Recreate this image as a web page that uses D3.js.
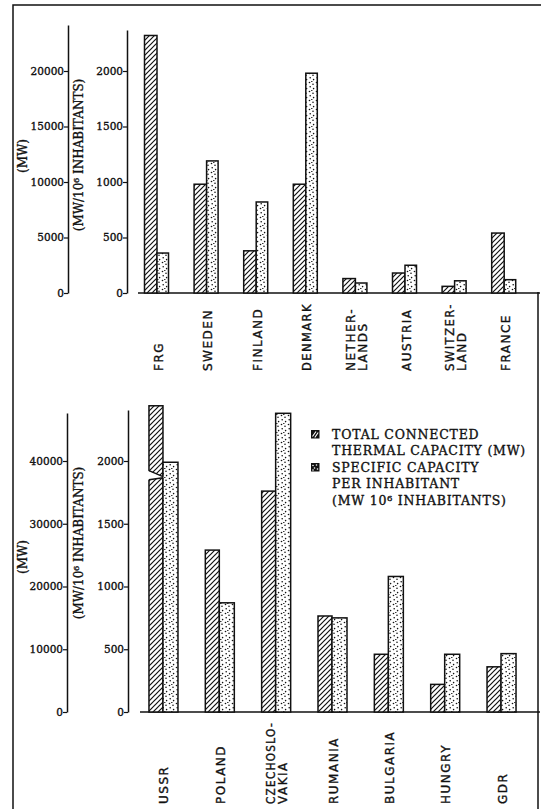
<!DOCTYPE html>
<html><head><meta charset="utf-8">
<script src="https://cdn.jsdelivr.net/npm/d3@7"></script>
<style>body{margin:0;background:#fff} svg{display:block}</style>
</head><body><svg id="chart" width="544" height="809"></svg>
<script>
// ---------- DATA ----------
const topCountries = ["FRG","SWEDEN","FINLAND","DENMARK","NETHER-|LANDS","AUSTRIA","SWITZER-|LAND","FRANCE"];
const topTotalMW = [23200, 9800, 3800, 9800, 1300, 1800, 600, 5400];
const topSpecific = [360, 1190, 820, 1980, 90, 250, 110, 120];
const topMWTicks = [0, 5000, 10000, 15000, 20000];
const topSpecTicks = [0, 500, 1000, 1500, 2000];

const bottomCountries = ["USSR","POLAND","CZECHOSLO-|VAKIA","RUMANIA","BULGARIA","HUNGRY","GDR"];
const bottomTotalMW = [48800, 25800, 35200, 15300, 9200, 4400, 7200];
const bottomSpecific = [1990, 870, 2380, 750, 1080, 460, 465];
const bottomMWTicks = [0, 10000, 20000, 30000, 40000];
const bottomSpecTicks = [0, 500, 1000, 1500, 2000];
const brokenBarAt = {"USSR": 37500};

const axisTitleMW = "(MW)";
const axisTitleSpec = "(MW/10\u2076 INHABITANTS)";
const legendItems = [
  {key: "total", lines: ["TOTAL CONNECTED", "THERMAL CAPACITY (MW)"]},
  {key: "spec", lines: ["SPECIFIC CAPACITY", "PER INHABITANT", "(MW 10\u2076 INHABITANTS)"]}
];

// ---------- SETUP ----------
const svg = d3.select("#chart");
const serif = "'DejaVu Serif', 'Liberation Serif', serif";
const sans = "'DejaVu Sans', 'Liberation Sans', sans-serif";
const ink = "#111";

const defs = svg.append("defs");
const hs = 5;
const hp = defs.append("pattern").attr("id","hatch").attr("patternUnits","userSpaceOnUse")
  .attr("width",hs).attr("height",hs);
hp.append("rect").attr("width",hs).attr("height",hs).attr("fill","#fff");
hp.append("path").attr("d",`M-1,1 L1,-1 M0,${hs} L${hs},0 M${hs-1},${hs+1} L${hs+1},${hs-1}`)
  .attr("stroke",ink).attr("stroke-width",1.2);

const dp = defs.append("pattern").attr("id","dots").attr("patternUnits","userSpaceOnUse")
  .attr("width",7).attr("height",9);
dp.append("rect").attr("width",7).attr("height",9).attr("fill","#fff");
[[1.5,1.5],[5,3.2],[2.2,5.8],[5.6,7.6],[3.8,0.3]].forEach(p =>
  dp.append("circle").attr("cx",p[0]).attr("cy",p[1]).attr("r",0.8).attr("fill",ink));

// frame
svg.append("path").attr("d","M13,809 L13,5 L541,5").attr("fill","none").attr("stroke",ink).attr("stroke-width",1.5);
svg.append("line").attr("x1",538).attr("x2",538).attr("y1",292).attr("y2",809).attr("stroke",ink).attr("stroke-width",1.5);

function boldify(sel) { return sel.attr("fill",ink).attr("stroke",ink).attr("stroke-width",0.35); }

function drawPanel(cfg) {
  const g = svg.append("g");
  const x = d3.scaleBand().domain(cfg.countries).range(cfg.xRange).padding(0);
  const yT = d3.scaleLinear().domain([0, cfg.mwTicks[cfg.mwTicks.length-1]]).range([cfg.y0, cfg.yTop]);
  const yS = d3.scaleLinear().domain([0, cfg.specTicks[cfg.specTicks.length-1]]).range([cfg.y0, cfg.yTop]);

  const yTax = yT.copy().domain([0, yT.invert(cfg.leftAxisTop)]).range([cfg.y0, cfg.leftAxisTop]);
  const ySax = yS.copy().domain([0, yS.invert(cfg.rightAxisTop)]).range([cfg.y0, cfg.rightAxisTop]);
  const axL = g.append("g").attr("transform",`translate(${cfg.leftAxisX},0)`)
    .call(d3.axisLeft(yTax).tickValues(cfg.mwTicks).tickSize(4).tickSizeOuter(0).tickFormat(d3.format("d")));
  const axR = g.append("g").attr("transform",`translate(${cfg.rightAxisX},0)`)
    .call(d3.axisLeft(ySax).tickValues(cfg.specTicks).tickSize(4).tickSizeOuter(0).tickFormat(d3.format("d")));
  [axL, axR].forEach(a => {
    a.select(".domain").attr("stroke",ink).attr("stroke-width",1.5);
    a.selectAll(".tick line").attr("stroke",ink).attr("stroke-width",1.2);
    boldify(a.selectAll(".tick text").attr("font-family",serif).attr("font-size",10.5).attr("x",-4));
  });

  g.append("line").attr("x1",cfg.baseX1).attr("x2",cfg.baseX2).attr("y1",cfg.y0).attr("y2",cfg.y0)
    .attr("stroke",ink).attr("stroke-width",1.6);

  boldify(g.append("text").attr("transform",`translate(${cfg.mwTitle[0]},${cfg.mwTitle[1]}) rotate(-90)`)
    .attr("text-anchor","middle").attr("dy","0.35em").attr("font-family",serif).attr("font-size",12)
    .text(axisTitleMW));
  boldify(g.append("text").attr("transform",`translate(${cfg.specTitle[0]},${cfg.specTitle[1]}) rotate(-90)`)
    .attr("text-anchor","middle").attr("dy","0.35em").attr("font-family",serif).attr("font-size",12)
    .text(axisTitleSpec));

  const data = cfg.countries.map((c,i) => ({c, t: cfg.total[i], s: cfg.spec[i]}));
  const bars = g.append("g");
  data.forEach(d => {
    const cx = x(d.c) + x.bandwidth()/2;
    bars.append("rect").attr("x", cx - cfg.wH).attr("width", cfg.wH)
      .attr("y", yT(d.t)).attr("height", cfg.y0 - yT(d.t))
      .attr("fill","url(#hatch)").attr("stroke",ink).attr("stroke-width",1.5);
    bars.append("rect").attr("x", cx).attr("width", cfg.wD)
      .attr("y", yS(d.s)).attr("height", cfg.y0 - yS(d.s))
      .attr("fill","url(#dots)").attr("stroke",ink).attr("stroke-width",1.5);
    if (cfg.broken && cfg.broken[d.c] !== undefined) {
      const yb = yT(cfg.broken[d.c]);
      const x0 = cx - cfg.wH, x1 = cx;
      bars.append("path").attr("d",`M${x0-1},${yb-6} L${x1+0.5},${yb} L${x1+0.5},${yb+1} L${x0-1},${yb+3} Z`)
        .attr("fill","#fff");
      bars.append("path").attr("d",`M${x0},${yb-6} L${x1},${yb} M${x0},${yb+3} L${x1},${yb+1}`)
        .attr("stroke",ink).attr("stroke-width",1.4).attr("fill","none");
    }
  });

  const maxLen = cfg.labelY - cfg.y0 - 10;
  data.forEach(d => {
    const cx = x(d.c) + x.bandwidth()/2 + 1;
    const lines = d.c.split("|");
    const t = g.append("text").attr("transform",`translate(${cx},${cfg.labelY}) rotate(-90)`)
      .attr("font-family",sans).attr("font-size",12).attr("letter-spacing","1.5px")
      .attr("text-anchor","start");
    boldify(t);
    lines.forEach((ln,k) => {
      const ts = t.append("tspan").attr("x",0)
        .attr("y", ((k - (lines.length-1)/2) * 12) + 4.5)
        .text(ln);
      const len = ts.node().getComputedTextLength();
      if (len > maxLen) ts.attr("textLength", maxLen).attr("lengthAdjust","spacingAndGlyphs");
    });
  });
}

drawPanel({
  countries: topCountries, total: topTotalMW, spec: topSpecific,
  mwTicks: topMWTicks, specTicks: topSpecTicks,
  xRange: [132.2, 529], y0: 293, yTop: 71,
  leftAxisX: 68, rightAxisX: 127, leftAxisTop: 25, rightAxisTop: 30,
  baseX1: 138, baseX2: 540, labelY: 371,
  mwTitle: [23, 156], specTitle: [79, 155],
  wH: 12.5, wD: 11.5
});

drawPanel({
  countries: bottomCountries, total: bottomTotalMW, spec: bottomSpecific,
  mwTicks: bottomMWTicks, specTicks: bottomSpecTicks,
  xRange: [134.8, 529.2], y0: 712, yTop: 461,
  leftAxisX: 67, rightAxisX: 128, leftAxisTop: 413, rightAxisTop: 410,
  baseX1: 140, baseX2: 540, labelY: 804,
  mwTitle: [23, 557], specTitle: [79, 543],
  wH: 14, wD: 15, broken: brokenBarAt
});

// legend
const lg = svg.append("g").attr("transform","translate(311,430)");
legendItems.forEach((it, i) => {
  const gy = i === 0 ? 0 : 33;
  const ig = lg.append("g").attr("transform",`translate(0,${gy})`);
  ig.append("rect").attr("width",8.5).attr("height",8.5).attr("fill",ink);
  if (it.key === "total") {
    ig.append("path").attr("d","M1.5,6.5 L5,1.5 M3.8,7.5 L7.2,2.5").attr("stroke","#fff").attr("stroke-width",1.1);
  } else {
    [[2,2.5],[5.5,2],[3.5,5],[6.5,6],[2,7]].forEach(p =>
      ig.append("circle").attr("cx",p[0]).attr("cy",p[1]).attr("r",0.8).attr("fill","#fff"));
  }
  const t = ig.append("text").attr("font-family",serif).attr("font-size",12.5).attr("letter-spacing","0.8px");
  boldify(t);
  it.lines.forEach((ln,k) => {
    t.append("tspan").attr("x",21).attr("y", 8.5 + k*16.5).text(ln);
  });
});
</script></body></html>
